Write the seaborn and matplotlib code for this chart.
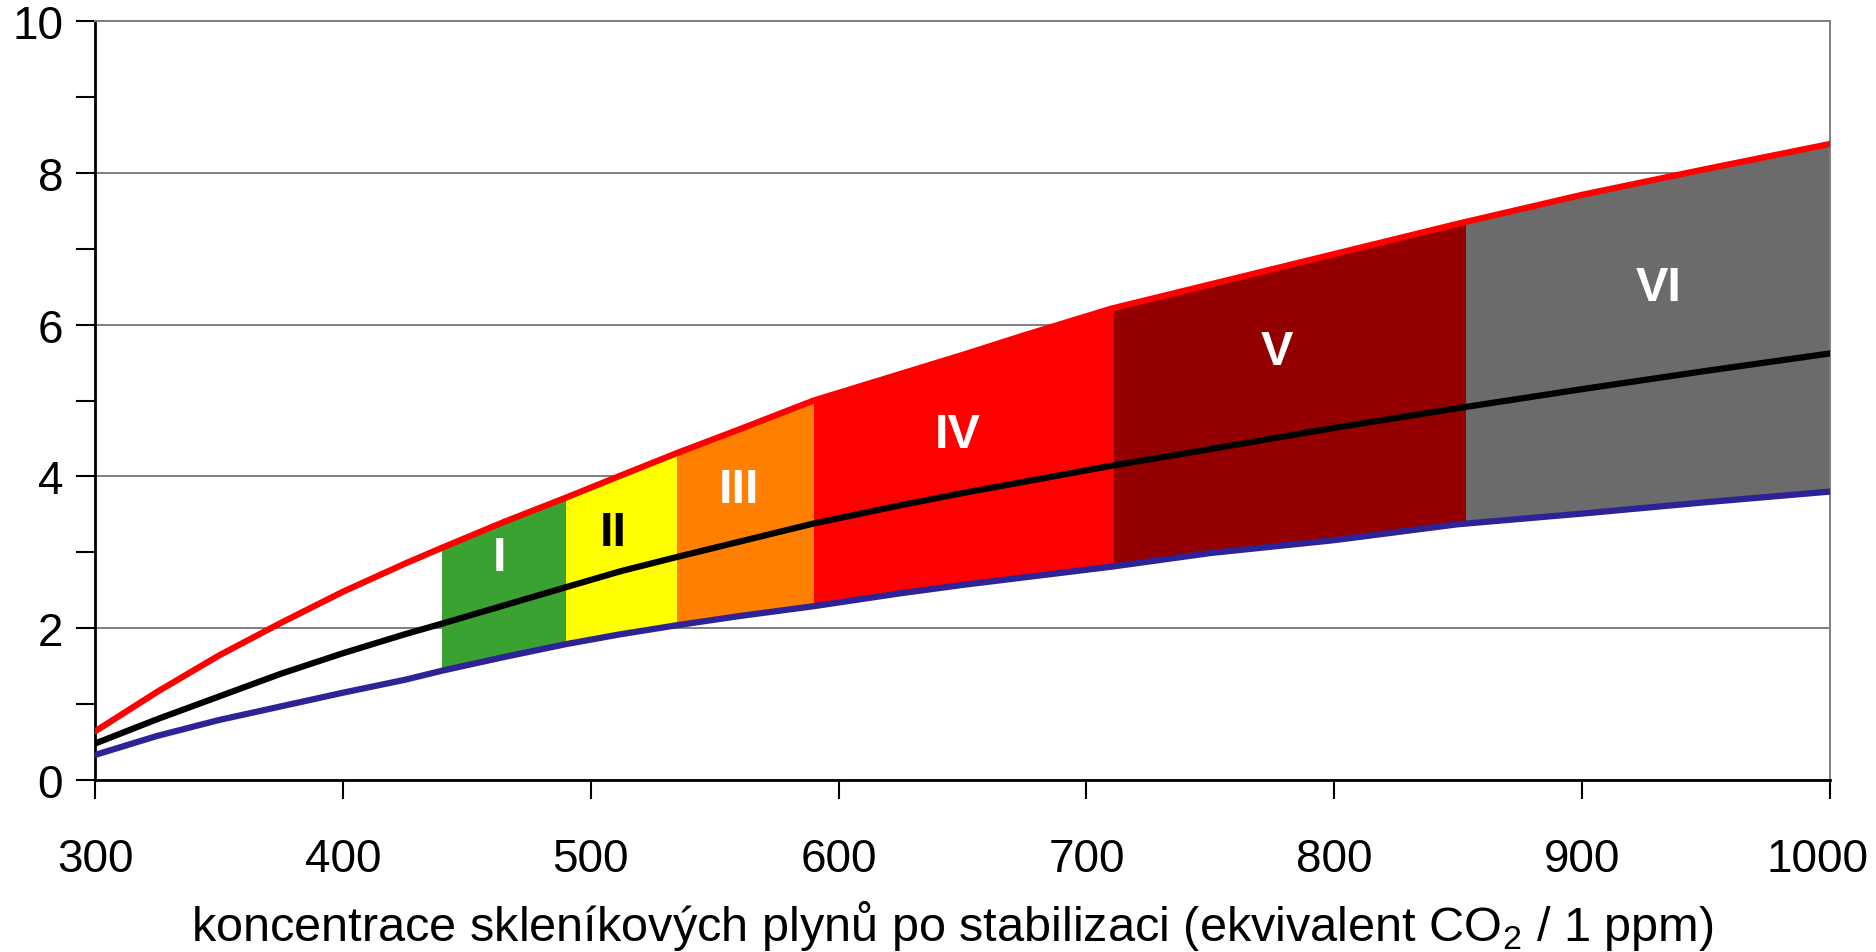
import numpy as np
import pandas as pd
import matplotlib
matplotlib.use("Agg")
import matplotlib.pyplot as plt
import seaborn as sns
from matplotlib.ticker import MultipleLocator, FuncFormatter

# values (ppm CO2-eq -> warming)
conc = [300, 325, 350, 375, 400, 425, 440, 465, 490, 512, 535, 560, 590,
        625, 650, 675, 710, 750, 800, 850, 900, 950, 1000]
upper = [0.64, 1.16, 1.64, 2.07, 2.48, 2.85, 3.06, 3.40, 3.72, 4.01, 4.31, 4.62, 5.00,
         5.35, 5.60, 5.86, 6.21, 6.53, 6.93, 7.33, 7.71, 8.05, 8.38]
middle = [0.48, 0.80, 1.10, 1.40, 1.67, 1.92, 2.06, 2.30, 2.54, 2.75, 2.94, 3.14, 3.38,
          3.62, 3.78, 3.93, 4.14, 4.36, 4.64, 4.90, 5.15, 5.39, 5.62]
lower = [0.33, 0.58, 0.79, 0.97, 1.15, 1.32, 1.44, 1.62, 1.79, 1.92, 2.04, 2.16, 2.29,
         2.46, 2.57, 2.67, 2.81, 2.99, 3.16, 3.37, 3.51, 3.66, 3.80]

zones = ["I", "II", "III", "IV", "V", "VI"]
zone_edges = [440, 490, 535, 590, 711, 853, 1000]
zone_colors = ["#3aa231", "#ffff00", "#ff8000", "#ff0000", "#940000", "#6b6b6b"]
zone_text_colors = ["white", "black", "white", "white", "white", "white"]
label_x = [463, 509, 560, 648, 777, 931]
label_y = [2.93, 3.26, 3.83, 4.55, 5.64, 6.49]

sns.set_theme(style="white")
plt.rcParams["font.family"] = ["Liberation Sans", "DejaVu Sans"]
plt.rcParams["mathtext.fontset"] = "custom"
plt.rcParams["mathtext.rm"] = "Liberation Sans"

df = pd.DataFrame({"conc": conc * 3,
                   "temp": upper + middle + lower,
                   "curve": ["upper"] * len(conc) + ["middle"] * len(conc) + ["lower"] * len(conc)})

fig, ax = plt.subplots(figsize=(18.76, 9.53), dpi=100)
fig.subplots_adjust(left=95 / 1876, right=1830 / 1876, top=1 - 22 / 953, bottom=1 - 781 / 953)

x = np.array(conc)
lo = np.array(lower)
hi = np.array(upper)
for i, name in enumerate(zones):
    # zone edges are not all on the sample grid: clip the band with a rectangle
    poly = ax.fill_between(x, lo, hi, color=zone_colors[i], lw=0, zorder=1)
    rect = plt.Rectangle((zone_edges[i], 0), zone_edges[i + 1] - zone_edges[i], 10,
                         transform=ax.transData)
    poly.set_clip_path(rect)
    ax.text(label_x[i], label_y[i], name, color=zone_text_colors[i], fontsize=35,
            fontweight="bold", ha="center", va="center", zorder=4)

sns.lineplot(data=df, x="conc", y="temp", hue="curve", sort=False, legend=False,
             palette={"upper": "#ff0000", "middle": "#000000", "lower": "#2e2396"},
             lw=4.5, ax=ax, zorder=3)

ax.set_xlim(300, 1000)
ax.set_ylim(0, 10)
ax.xaxis.set_major_locator(MultipleLocator(100))
ax.yaxis.set_major_locator(MultipleLocator(2))
ax.yaxis.set_minor_locator(MultipleLocator(1))
ax.set_axisbelow(True)
ax.yaxis.grid(True, which="major", color="#7f7f7f", lw=1.4)
ax.xaxis.grid(False)

for side in ["top", "right"]:
    ax.spines[side].set_color("#7f7f7f")
    ax.spines[side].set_linewidth(1.4)
for side in ["left", "bottom"]:
    ax.spines[side].set_color("black")
    ax.spines[side].set_linewidth(2)

ax.tick_params(axis="y", which="both", direction="out", length=14, width=1.5,
               pad=9, labelsize=33, left=True, color="black", labelcolor="black")
ax.tick_params(axis="x", which="major", direction="out", length=14, width=1.5,
               pad=27, labelsize=33, bottom=True, color="black", labelcolor="black")

# the last label sits a little left of its tick so that it stays inside the picture
ax.xaxis.set_major_formatter(FuncFormatter(lambda v, p: "" if v >= 1000 else f"{v:.0f}"))
ax.annotate("1000", xy=(1000, 0), xycoords="data", xytext=(-9, -41),
            textcoords="offset points", ha="center", va="top", fontsize=33,
            color="black", annotation_clip=False)

ax.set_xlabel("koncentrace skleníkových plynů po stabilizaci (ekvivalent CO$_2$ / 1 ppm)",
              fontsize=35, color="black", va="center")
ax.xaxis.set_label_coords(0.494, -0.19)
ax.set_ylabel("")

fig.savefig("out.png", dpi=100)
